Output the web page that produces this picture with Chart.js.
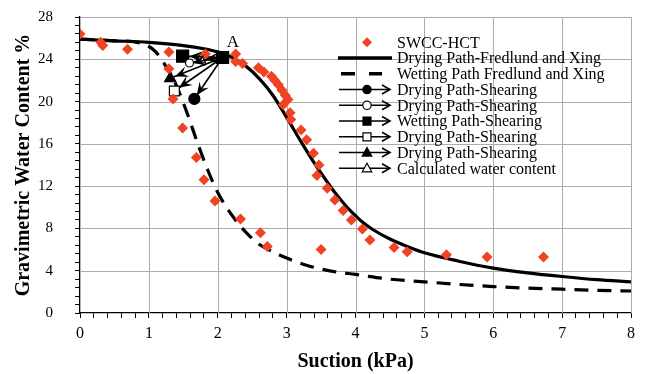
<!DOCTYPE html>
<html><head><meta charset="utf-8">
<script src="https://cdn.jsdelivr.net/npm/chart.js@4/dist/chart.umd.min.js"></script>
<style>html,body{margin:0;padding:0;background:#fff}</style>
</head><body><canvas id="c" width="647" height="374"></canvas>
<script>
// ---- data ----
const swccX = [0,0.3,0.33,0.69,1.29,1.29,1.35,1.49,1.69,1.8,1.96,1.82,2.26,2.26,2.36,2.59,2.67,2.78,2.83,2.88,2.93,2.98,3.02,2.95,3.05,3.06,3.21,3.29,3.39,3.47,3.44,3.59,3.70,3.82,3.94,4.10,4.21,4.56,4.75,3.50,2.33,2.62,2.72,5.32,5.91,6.73];
const swccY = [26.4,25.6,25.3,24.95,24.7,23.1,20.25,17.5,14.7,12.6,10.6,24.5,24.5,23.8,23.6,23.2,22.8,22.4,22.0,21.6,21.1,20.6,20.2,19.7,18.95,18.3,17.3,16.4,15.1,14.0,13.0,11.8,10.7,9.7,8.8,7.95,6.9,6.2,5.8,6.0,8.9,7.6,6.3,5.5,5.3,5.3];

const dryFX = [0,0.5,1,1.5,1.8,2,2.2,2.4,2.6,2.8,3.0,3.2,3.4,3.6,3.7,3.8,3.9,4.0,4.1,4.25,4.5,4.75,5,5.5,6,6.5,7,7.5,8];
const dryFY = [25.9,25.75,25.6,25.3,25.0,24.7,24.2,23.4,22.2,20.6,18.5,16.3,14.2,12.3,11.4,10.6,9.85,9.2,8.6,7.9,7.0,6.3,5.7,4.9,4.25,3.8,3.45,3.15,2.95];

const wetFX = [0,0.5,0.9,1.1,1.25,1.4,1.55,1.7,1.85,2.0,2.2,2.4,2.6,2.8,3.0,3.3,3.7,4.0,4.5,5,5.5,6,6.5,7,7.5,8];
const wetFY = [25.9,25.75,25.5,24.7,23.3,21.5,19.0,16.2,13.6,11.4,9.3,7.7,6.5,5.8,5.2,4.5,3.9,3.65,3.2,2.95,2.7,2.5,2.35,2.25,2.15,2.08];

const pointA = [2.07, 24.17];
const shearNames = ['Drying Path-Shearing','Drying Path-Shearing','Wetting Path-Shearing','Drying Path-Shearing','Drying Path-Shearing','Calculated water content'];
const shearEndX = [1.66, 1.59, 1.49, 1.37, 1.31, 1.75];
const shearEndY = [20.25, 23.65, 24.3, 21.0, 22.2, 23.95];
const shearStyle = ['circle','circle','rect','rect','triangle','triangle'];
const shearFilled = [true,false,true,false,true,false];
const shearRadius = [5.5,4,8.5,7,6.5,6];

const xTickLabels = [0,1,2,3,4,5,6,7,8];
const yTickLabels = [0,4,8,12,16,20,24,28];
const labelA = {x: 2.22, y: 25.55, text: 'A'};

const RED = '#EF4323';
const GRID = '#ABABAB';
const SERIF = '"Liberation Serif", "Times New Roman", serif';

const zip = (xs, ys) => xs.map((x, i) => ({x, y: ys[i]}));
const isMult = (v, m) => Math.abs(v / m - Math.round(v / m)) < 1e-6;

const datasets = [
  {label:'SWCC-HCT', data: zip(swccX, swccY), showLine:false, pointStyle:'rectRot', pointRadius:5.5,
   pointBackgroundColor:RED, pointBorderColor:RED, pointBorderWidth:0, order:0},
  {label:'Drying Path-Fredlund and Xing', data: zip(dryFX, dryFY), showLine:true, borderColor:'#000', borderWidth:3.2,
   pointRadius:0, cubicInterpolationMode:'monotone', order:2},
  {label:'Wetting Path Fredlund and Xing', data: zip(wetFX, wetFY), showLine:true, borderColor:'#000', borderWidth:3.2,
   borderDash:[14,9], pointRadius:0, cubicInterpolationMode:'monotone', order:2},
];
shearNames.forEach((n, i) => {
  datasets.push({
    label: n, shear: true, data: [{x: pointA[0], y: pointA[1]}, {x: shearEndX[i], y: shearEndY[i]}],
    showLine: true, borderColor: '#000', borderWidth: 1.6,
    pointStyle: shearStyle[i],
    pointRadius: i === 2 ? [shearRadius[i], shearRadius[i]] : [0, shearRadius[i]],
    pointBackgroundColor: shearFilled[i] ? '#000' : '#fff', pointBorderColor: '#000', pointBorderWidth: 1.2,
    order: 1
  });
});

function drawMajorGrid(chart) {
  const ctx = chart.ctx, xs = chart.scales.x, ys = chart.scales.y;
  const a = chart.chartArea;
  ctx.save();
  ctx.strokeStyle = GRID; ctx.lineWidth = 1;
  ctx.beginPath();
  for (const v of xTickLabels) { if (v === 0) continue; const px = Math.round(xs.getPixelForValue(v)) + 0.5; ctx.moveTo(px, a.top); ctx.lineTo(px, a.bottom); }
  for (const v of yTickLabels) { if (v === 0) continue; const py = Math.round(ys.getPixelForValue(v)) + 0.5; ctx.moveTo(a.left, py); ctx.lineTo(a.right, py); }
  ctx.stroke();
  ctx.restore();
}

const gridPlugin = { id: 'majorGrid', beforeDatasetsDraw(chart) { drawMajorGrid(chart); } };

const arrowPlugin = {
  id: 'arrows',
  afterDatasetsDraw(chart) {
    const ctx = chart.ctx;
    chart.data.datasets.forEach((ds, di) => {
      if (!ds.shear) return;
      const meta = chart.getDatasetMeta(di);
      const p0 = meta.data[0], p1 = meta.data[1];
      const idx = di - 3;
      const ang = Math.atan2(p1.y - p0.y, p1.x - p0.x);
      const off = shearRadius[idx] * 0.8;
      const tx = p1.x - Math.cos(ang) * off, ty = p1.y - Math.sin(ang) * off;
      const L = 13, W = 5.5;
      ctx.save();
      ctx.fillStyle = '#000';
      ctx.beginPath();
      ctx.moveTo(tx, ty);
      const bx = tx - Math.cos(ang) * L, by = ty - Math.sin(ang) * L;
      const nx = -Math.sin(ang), ny = Math.cos(ang);
      ctx.lineTo(bx + nx * W, by + ny * W);
      ctx.lineTo(tx - Math.cos(ang) * L * 0.6, ty - Math.sin(ang) * L * 0.6);
      ctx.lineTo(bx - nx * W, by - ny * W);
      ctx.closePath();
      ctx.fill();
      ctx.restore();
    });
    const xs = chart.scales.x, ys = chart.scales.y;
    ctx.save();
    ctx.font = '17px ' + SERIF;
    ctx.fillStyle = '#000';
    ctx.textAlign = 'center';
    ctx.textBaseline = 'middle';
    ctx.fillText(labelA.text, xs.getPixelForValue(labelA.x), ys.getPixelForValue(labelA.y));
    ctx.restore();
  }
};

function drawMarker(ctx, style, filled, x, y, r) {
  ctx.save();
  ctx.fillStyle = filled ? '#000' : '#fff';
  ctx.strokeStyle = '#000';
  ctx.lineWidth = 1.2;
  ctx.beginPath();
  if (style === 'circle') ctx.arc(x, y, r, 0, Math.PI * 2);
  else if (style === 'rect') ctx.rect(x - r, y - r, 2 * r, 2 * r);
  else { ctx.moveTo(x, y - r); ctx.lineTo(x + r * 0.95, y + r * 0.7); ctx.lineTo(x - r * 0.95, y + r * 0.7); ctx.closePath(); }
  ctx.fill(); ctx.stroke();
  ctx.restore();
}

const legendPlugin = {
  id: 'customLegend',
  afterDraw(chart) {
    const ctx = chart.ctx;
    const y0 = 42.3, dy = 15.75, tx = 397;
    ctx.save();
    ctx.font = '16px ' + SERIF;
    ctx.textBaseline = 'middle';
    chart.data.datasets.forEach((ds, i) => {
      const y = y0 + i * dy;
      ctx.fillStyle = '#000';
      ctx.fillText(ds.label, tx, y + 1);
      if (i === 0) {
        ctx.fillStyle = RED;
        ctx.beginPath();
        ctx.moveTo(367, y - 5); ctx.lineTo(372, y); ctx.lineTo(367, y + 5); ctx.lineTo(362, y); ctx.closePath(); ctx.fill();
      } else if (i === 1) {
        ctx.strokeStyle = '#000'; ctx.lineWidth = 3.5;
        ctx.beginPath(); ctx.moveTo(338, y); ctx.lineTo(392, y); ctx.stroke();
      } else if (i === 2) {
        ctx.strokeStyle = '#000'; ctx.lineWidth = 3.5;
        ctx.beginPath(); ctx.moveTo(341, y); ctx.lineTo(355, y); ctx.moveTo(369, y); ctx.lineTo(382, y); ctx.stroke();
      } else {
        const k = i - 3;
        ctx.strokeStyle = '#000'; ctx.lineWidth = 1.6;
        ctx.beginPath(); ctx.moveTo(339, y); ctx.lineTo(390, y); ctx.stroke();
        ctx.beginPath(); ctx.moveTo(382, y - 4.5); ctx.lineTo(390, y); ctx.lineTo(382, y + 4.5); ctx.stroke();
        const r = shearStyle[k] === 'rect' ? 4 : (shearStyle[k] === 'circle' ? 4.2 : 5);
        drawMarker(ctx, shearStyle[k], shearFilled[k], 367, y, r);
      }
    });
    ctx.restore();
  }
};

new Chart(document.getElementById('c'), {
  type: 'scatter',
  data: { datasets },
  options: {
    responsive: false, animation: false, devicePixelRatio: 1,
    layout: { padding: { left: 0, right: 16, top: 17, bottom: 0 } },
    plugins: { legend: { display: false }, tooltip: { enabled: false } },
    scales: {
      x: {
        type: 'linear', min: 0, max: 8,
        afterFit: s => { s.height = 61; },
        ticks: { stepSize: 0.2, autoSkip: false, maxRotation: 0, padding: 6, color: '#000',
          font: { family: SERIF, size: 16 },
          callback: v => isMult(v, 1) && xTickLabels.includes(Math.round(v)) ? String(Math.round(v)) : '' },
        grid: { drawOnChartArea: false, color: '#000', tickColor: '#000', tickLength: 5, lineWidth: 1 },
        border: { color: '#000', width: 1.3 },
        title: { display: true, text: 'Suction (kPa)', color: '#000', font: { family: SERIF, size: 20, weight: 'bold' }, padding: { top: 0, bottom: 0 } }
      },
      y: {
        type: 'linear', min: 0, max: 28,
        afterFit: s => { s.width = 80; s.paddingTop = 9; s.paddingBottom = 9; },
        ticks: { stepSize: 0.8, autoSkip: false, padding: 22, color: '#000',
          font: { family: SERIF, size: 15 },
          callback: v => isMult(v, 4) && yTickLabels.includes(Math.round(v)) ? String(Math.round(v)) : '' },
        grid: { drawOnChartArea: false, color: '#000', tickColor: '#000', tickLength: 5, lineWidth: 1 },
        border: { color: '#000', width: 1.3 },
        title: { display: true, text: 'Gravimetric Water Content %', color: '#000', font: { family: SERIF, size: 20, weight: 'bold' }, padding: { top: 12, bottom: 0 } }
      }
    }
  },
  plugins: [gridPlugin, arrowPlugin, legendPlugin]
});
</script></body></html>
